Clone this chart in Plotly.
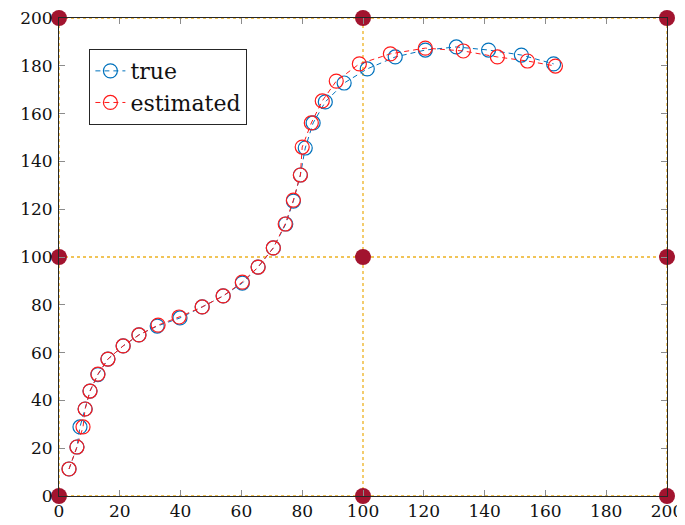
import plotly.graph_objects as go

# ---- data ----
x_true = [3.3, 5.9, 6.9, 8.6, 10.2, 12.8, 16.1, 21.1, 26.3, 32.3, 39.8, 47.1, 54.0, 60.3, 65.5,
          70.5, 74.6, 77.1, 79.4, 81.0, 83.6, 87.6, 93.8, 101.4, 110.6, 120.5, 130.7, 141.3, 152.1, 162.7]
y_true = [11.3, 20.5, 28.9, 36.4, 43.9, 50.8, 57.3, 62.8, 67.4, 71.1, 74.5, 79.1, 83.7, 89.1, 95.8,
          103.8, 113.8, 123.4, 134.3, 145.6, 156.1, 164.9, 172.8, 178.7, 183.7, 186.6, 187.9, 186.6, 184.5, 180.8]
x_est = [3.3, 5.9, 7.9, 8.6, 10.2, 12.8, 16.1, 21.1, 26.3, 32.6, 39.5, 47.1, 54.0, 60.3, 65.5,
         70.5, 74.4, 77.1, 79.4, 80.0, 83.0, 86.6, 91.2, 98.8, 109.0, 120.5, 133.0, 144.2, 154.1, 163.3]
y_est = [11.3, 20.5, 28.9, 36.4, 43.9, 51.0, 57.3, 62.8, 67.4, 71.5, 74.9, 79.1, 83.7, 89.5, 95.8,
         103.8, 113.8, 123.8, 134.3, 146.0, 156.1, 165.3, 173.6, 180.8, 185.0, 187.4, 186.2, 183.7, 182.0, 179.9]
series_names = ["true", "estimated"]
grid_values = [0, 100, 200]
tick_values = list(range(0, 201, 20))
tick_labels = [str(v) for v in tick_values]

BLUE = "#0072BD"
RED = "#FF1A1A"
GOLD = "#EDB120"
DARKRED = "#A2142F"
FONT = "DejaVu Serif"

fig = go.Figure()

# dotted gold reference lines
for g in grid_values:
    fig.add_trace(go.Scatter(x=[g, g], y=[grid_values[0], grid_values[-1]], mode="lines",
                             line=dict(color=GOLD, width=1.3, dash="dot"),
                             showlegend=False, hoverinfo="skip"))
    fig.add_trace(go.Scatter(x=[grid_values[0], grid_values[-1]], y=[g, g], mode="lines",
                             line=dict(color=GOLD, width=1.3, dash="dot"),
                             showlegend=False, hoverinfo="skip"))

# data series
fig.add_trace(go.Scatter(x=x_true, y=y_true, mode="lines+markers", name=series_names[0],
                         line=dict(color=BLUE, width=1, dash="5px,4px"),
                         marker=dict(symbol="circle-open", size=14, color=BLUE,
                                     line=dict(width=1.2, color=BLUE))))
fig.add_trace(go.Scatter(x=x_est, y=y_est, mode="lines+markers", name=series_names[1],
                         line=dict(color=RED, width=1, dash="5px,4px"),
                         marker=dict(symbol="circle-open", size=14, color=RED,
                                     line=dict(width=1.2, color=RED))))

# dark red dots at intersections
gx = [a for a in grid_values for b in grid_values]
gy = [b for a in grid_values for b in grid_values]
fig.add_trace(go.Scatter(x=gx, y=gy, mode="markers",
                         marker=dict(color=DARKRED, size=16),
                         showlegend=False, hoverinfo="skip", cliponaxis=False))

axis_common = dict(
    range=[0, 200], tickvals=tick_values, ticktext=tick_labels,
    ticks="inside", ticklen=6, tickcolor="#8c8c8c", tickwidth=1,
    showline=True, linecolor="#262626", linewidth=1, mirror="ticks",
    showgrid=False, zeroline=False, automargin=False,
    ticklabeloverflow="allow",
    tickfont=dict(family=FONT, size=17, color="#111111"),
)

# the page adds an 8px body margin, so the figure is drawn 8px in from the corner
fig.update_layout(
    width=677, height=517,
    margin=dict(l=51, r=18, t=10, b=28.5, autoexpand=False),
    paper_bgcolor="white", plot_bgcolor="white",
    xaxis=dict(**axis_common),
    yaxis=dict(**axis_common, ticklabelstandoff=2),
    legend=dict(x=0.05, y=0.935, xanchor="left", yanchor="top",
                bgcolor="white", bordercolor="#262626", borderwidth=1,
                font=dict(family=FONT, size=22, color="#111111"),
                itemwidth=30, tracegroupgap=0),
    showlegend=True,
)

fig.write_html("out.html")
